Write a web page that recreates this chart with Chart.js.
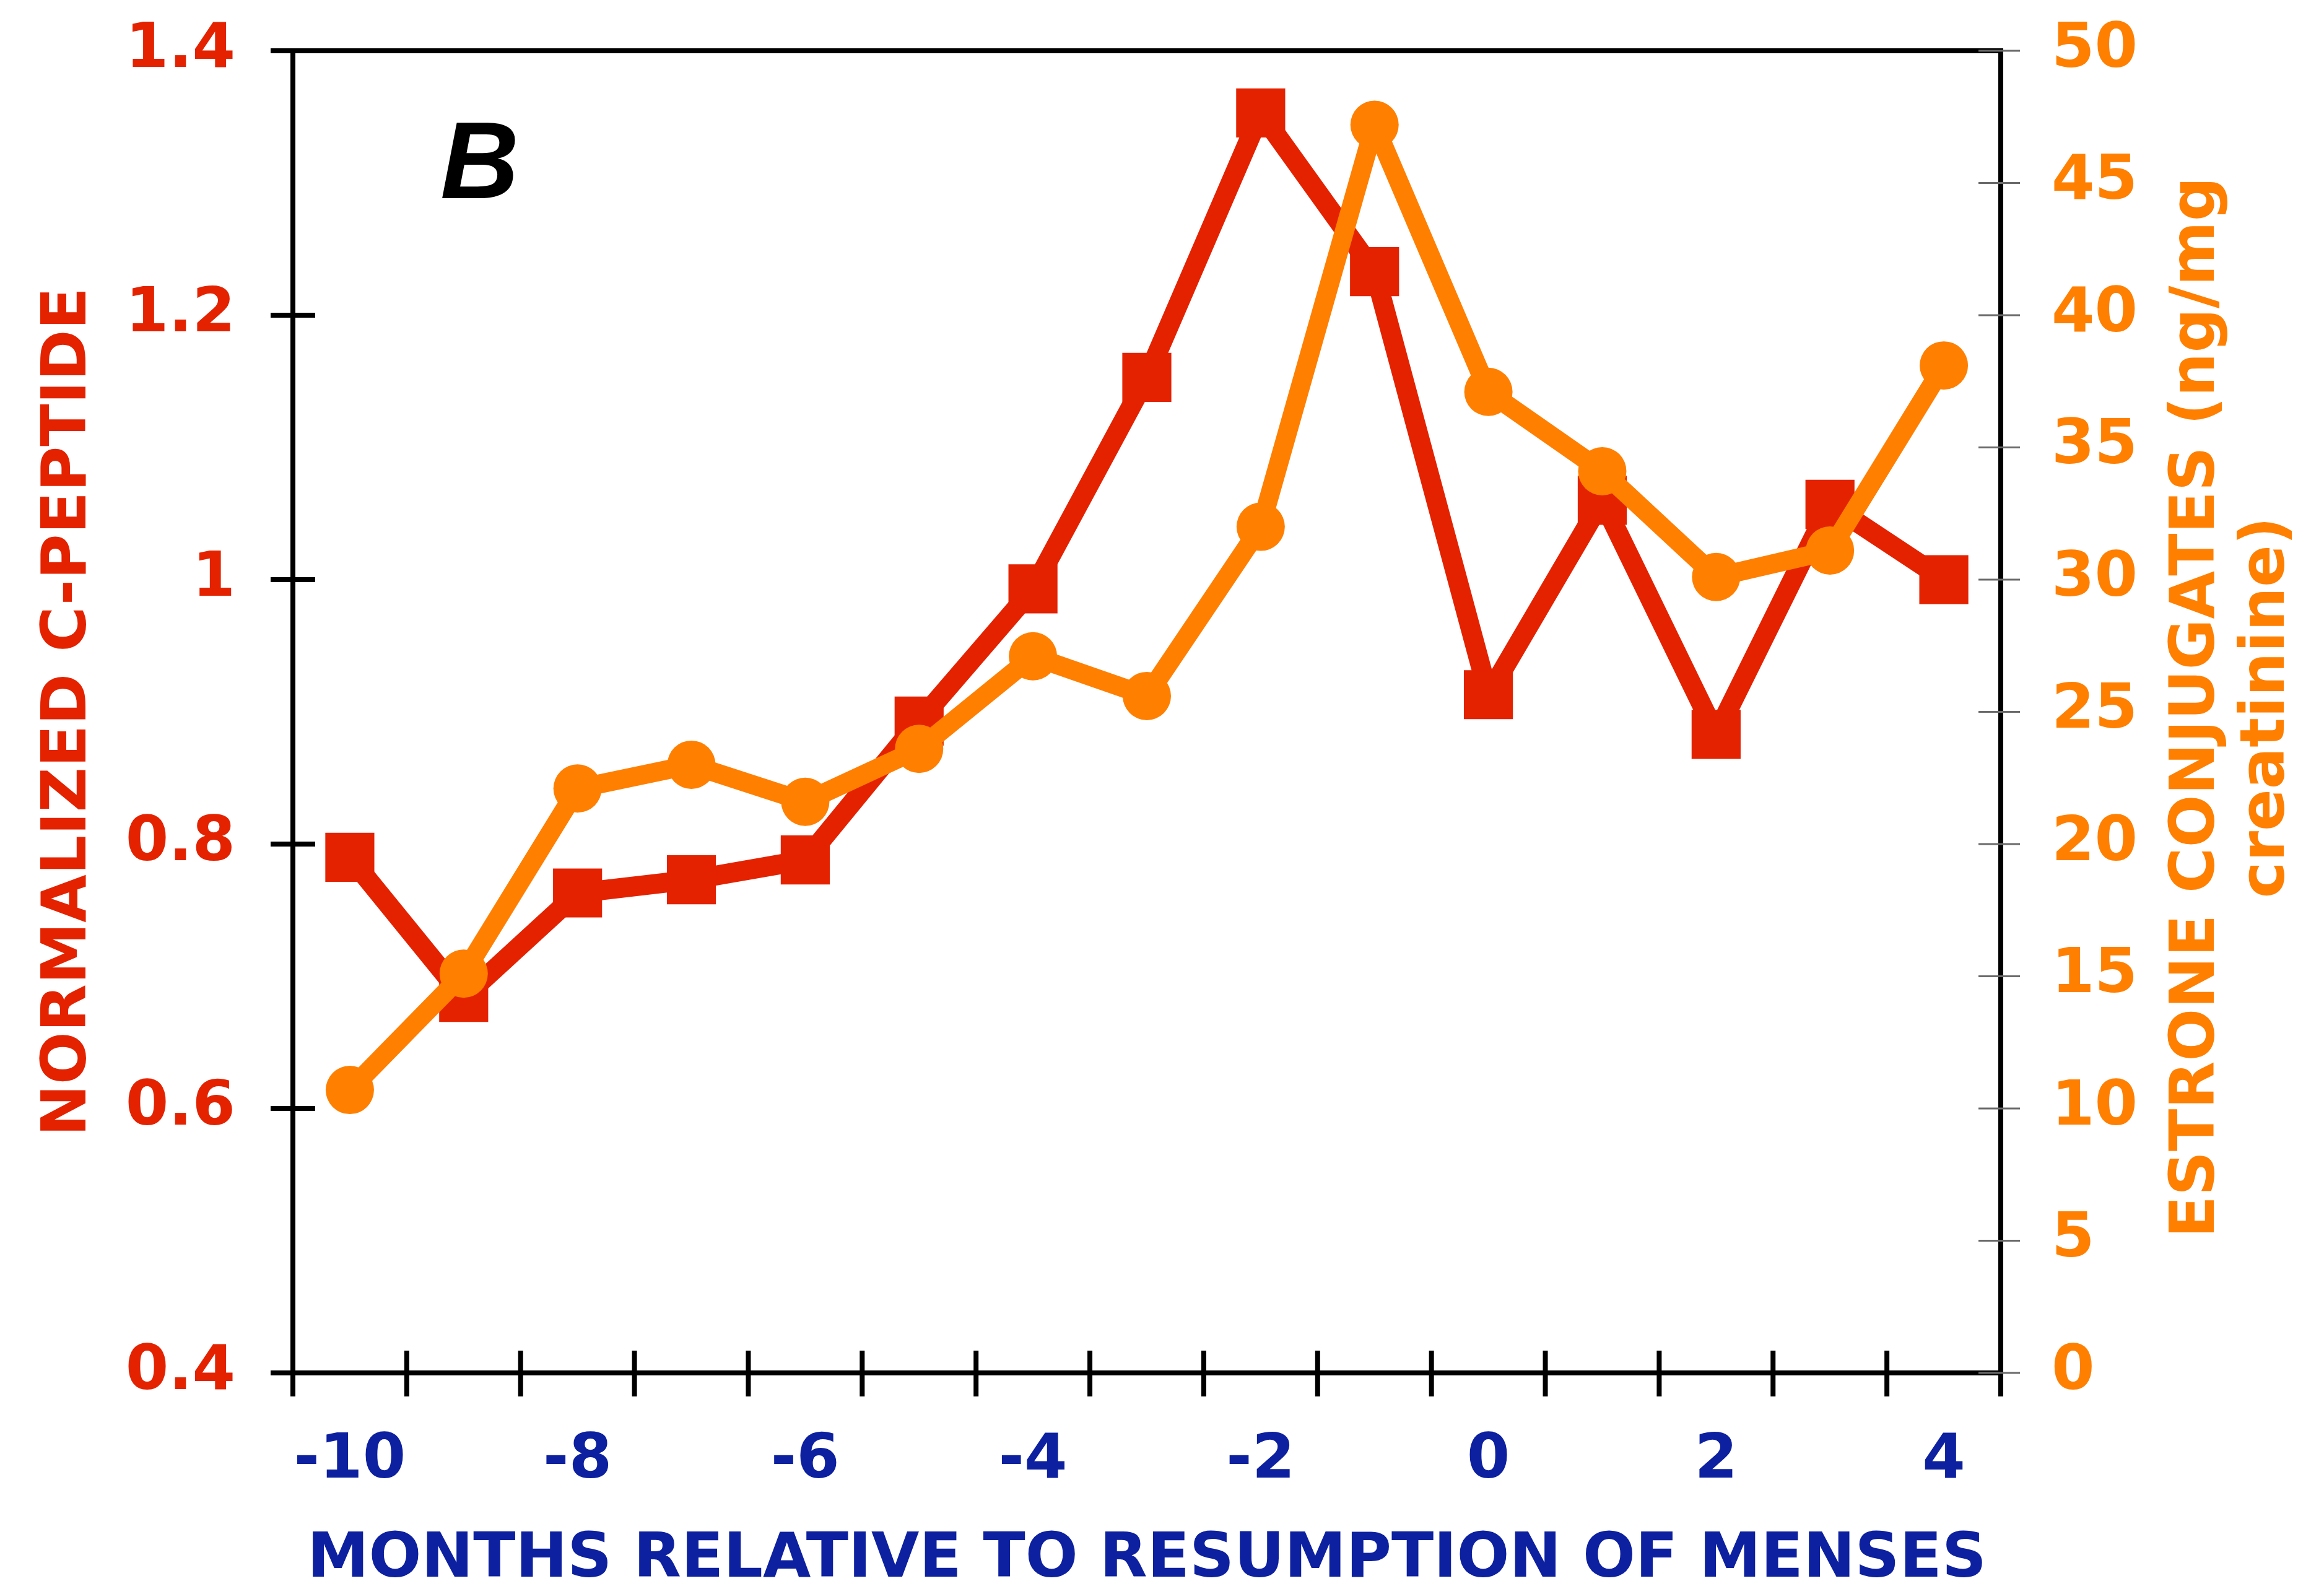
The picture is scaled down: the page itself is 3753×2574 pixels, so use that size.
<!DOCTYPE html>
<html>
<head>
<meta charset="utf-8">
<script src="https://cdn.jsdelivr.net/npm/chart.js@4.4.0/dist/chart.umd.min.js"></script>
<style>
  html, body { margin: 0; padding: 0; background: #ffffff; }
  #wrap { width: 3753px; height: 2574px; position: relative; }
</style>
</head>
<body>
<div id="wrap"><canvas id="chart"></canvas></div>
<script>
// Months relative to the resumption of menses
const months = [-10, -9, -8, -7, -6, -5, -4, -3, -2, -1, 0, 1, 2, 3, 4];
// Normalized C-peptide (left axis)
const cPeptide = [0.79, 0.684, 0.763, 0.773, 0.788, 0.893, 0.993, 1.153, 1.353, 1.233, 0.913, 1.06, 0.883, 1.057, 1.0];
// Estrone conjugates, ng/mg creatinine (right axis)
const estrone = [10.7, 15.1, 22.1, 23.0, 21.6, 23.6, 27.1, 25.6, 32.0, 47.2, 37.1, 34.1, 30.1, 31.1, 38.1];

// Tick values / labels
const cPeptideTicks = [0.4, 0.6, 0.8, 1, 1.2, 1.4];
const estroneTicks = [0, 5, 10, 15, 20, 25, 30, 35, 40, 45, 50];
const monthTickLabels = [-10, -8, -6, -4, -2, 0, 2, 4];

const panelLetter = 'B';
const xTitle = 'MONTHS RELATIVE TO RESUMPTION OF MENSES';
const leftTitle = 'NORMALIZED C-PEPTIDE';
const rightTitle = ['ESTRONE CONJUGATES (ng/mg', 'creatinine)'];

const RED = '#e42200';
const ORANGE = '#ff7f00';
const BLUE = '#0c20a0';
const FONT = '"DejaVu Sans", Verdana, sans-serif';

// Keep the tick label overhang from shrinking the plot area
function noOverhang(s) {
  s.paddingTop = 0;
  s.paddingBottom = 0;
  s.paddingLeft = 0;
  s.paddingRight = 0;
}

// Frame, crossing tick marks, panel letter and the right-hand title
const decorations = {
  id: 'decorations',
  beforeDatasetsDraw(chart) {
    const { ctx, chartArea: a } = chart;
    const x = chart.scales.x, y = chart.scales.y, y2 = chart.scales.y2;
    ctx.save();
    ctx.lineCap = 'butt';

    // plot frame
    ctx.strokeStyle = '#000';
    ctx.lineWidth = 8;
    ctx.strokeRect(a.left, a.top, a.right - a.left, a.bottom - a.top);

    // left axis ticks (cross the axis line)
    ctx.beginPath();
    cPeptideTicks.forEach(v => {
      const py = y.getPixelForValue(v);
      ctx.moveTo(a.left - 36, py);
      ctx.lineTo(a.left + 36, py);
    });
    ctx.stroke();

    // bottom axis ticks at category boundaries
    ctx.beginPath();
    for (let i = 0; i <= months.length; i++) {
      const px = x.getPixelForValue(i - 0.5);
      ctx.moveTo(px, a.bottom - 36);
      ctx.lineTo(px, a.bottom + 38);
    }
    ctx.stroke();

    // right axis ticks, thin grey
    ctx.strokeStyle = '#6a6a6a';
    ctx.lineWidth = 3;
    ctx.beginPath();
    estroneTicks.forEach(v => {
      const py = y2.getPixelForValue(v);
      ctx.moveTo(a.right - 36, py);
      ctx.lineTo(a.right + 31, py);
    });
    ctx.stroke();
    ctx.restore();
  },
  afterDraw(chart) {
    const { ctx, chartArea: a } = chart;
    ctx.save();
    // panel letter
    ctx.fillStyle = '#000';
    ctx.font = 'italic bold 176px "Liberation Sans", Arial, sans-serif';
    ctx.textAlign = 'left';
    ctx.textBaseline = 'alphabetic';
    ctx.fillText(panelLetter, a.left + 238, a.top + 238);

    // right axis title, two lines reading bottom to top
    ctx.fillStyle = ORANGE;
    ctx.font = 'bold 100px ' + FONT;
    ctx.textAlign = 'center';
    ctx.textBaseline = 'middle';
    const cy = (a.top + a.bottom) / 2 - 7;
    const xs = [a.right + 318, a.right + 431];
    rightTitle.forEach((t, i) => {
      ctx.save();
      ctx.translate(xs[i], cy);
      ctx.rotate(-Math.PI / 2);
      ctx.fillText(t, 0, 0);
      ctx.restore();
    });
    ctx.restore();
  }
};

new Chart(document.getElementById('chart'), {
  type: 'line',
  data: {
    labels: months,
    datasets: [
      {
        label: leftTitle,
        data: cPeptide,
        yAxisID: 'y',
        borderColor: RED,
        backgroundColor: RED,
        borderWidth: 32,
        borderJoinStyle: 'round',
        pointStyle: 'rect',
        pointRadius: 56,
        pointBorderWidth: 0,
        pointBackgroundColor: RED,
        tension: 0,
        order: 2
      },
      {
        label: rightTitle.join(' '),
        data: estrone,
        yAxisID: 'y2',
        borderColor: ORANGE,
        backgroundColor: ORANGE,
        borderWidth: 31,
        borderJoinStyle: 'round',
        pointStyle: 'circle',
        pointRadius: 39,
        pointBorderWidth: 0,
        pointBackgroundColor: ORANGE,
        tension: 0,
        order: 1
      }
    ]
  },
  options: {
    responsive: true,
    maintainAspectRatio: false,
    animation: false,
    devicePixelRatio: 1,
    layout: { padding: { top: 82, left: 0, right: 0, bottom: 0 } },
    plugins: { legend: { display: false }, tooltip: { enabled: false } },
    scales: {
      x: {
        type: 'category',
        offset: true,
        grid: { display: false, drawTicks: false, offset: true },
        border: { display: false },
        ticks: {
          autoSkip: false,
          maxRotation: 0,
          minRotation: 0,
          padding: 83,
          color: BLUE,
          font: { family: FONT, size: 100, weight: 'bold' },
          callback: (v, i) => monthTickLabels.includes(months[i]) ? String(months[i]) : ''
        },
        title: {
          display: true,
          text: xTitle,
          color: BLUE,
          font: { family: FONT, size: 100, weight: 'bold', lineHeight: 1 },
          padding: { top: 0, bottom: 4 }
        },
        afterFit: s => { s.height = 357; noOverhang(s); }
      },
      y: {
        position: 'left',
        min: 0.4,
        max: 1.4,
        grid: { display: false, drawTicks: false },
        border: { display: false },
        afterBuildTicks: s => { s.ticks = cPeptideTicks.map(v => ({ value: v })); },
        ticks: {
          padding: 93,
          color: RED,
          font: { family: FONT, size: 100, weight: 'bold' },
          callback: v => String(v)
        },
        title: {
          display: true,
          text: leftTitle,
          color: RED,
          font: { family: FONT, size: 100, weight: 'bold', lineHeight: 1 },
          padding: { top: 62, bottom: 0 }
        },
        afterFit: s => { s.width = 473; noOverhang(s); }
      },
      y2: {
        position: 'right',
        min: 0,
        max: 50,
        grid: { display: false, drawTicks: false, drawOnChartArea: false },
        border: { display: false },
        afterBuildTicks: s => { s.ticks = estroneTicks.map(v => ({ value: v })); },
        ticks: {
          padding: 82,
          color: ORANGE,
          font: { family: FONT, size: 100, weight: 'bold' },
          callback: v => String(v)
        },
        afterFit: s => { s.width = 522; noOverhang(s); }
      }
    }
  },
  plugins: [decorations]
});
</script>
</body>
</html>
